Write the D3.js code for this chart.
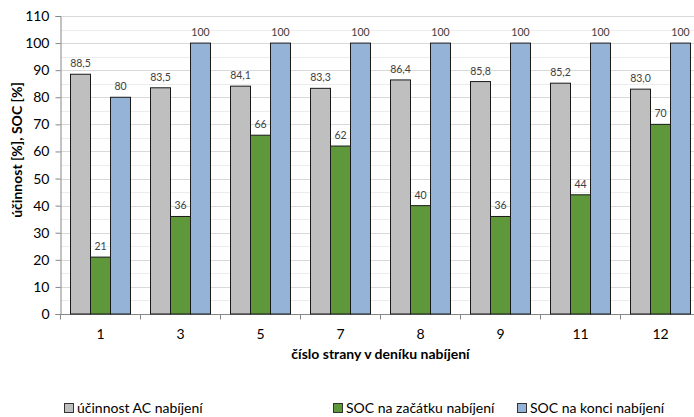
<!DOCTYPE html>
<html><head><meta charset="utf-8">
<script src="https://cdn.jsdelivr.net/npm/d3@7"></script>
<style>body{margin:0;background:#fff}svg{display:block;font-family:Lato,"Open Sans",sans-serif}</style>
</head><body><svg id="c" width="694" height="417"></svg>
<script>
const categories = ["1","3","5","7","8","9","11","12"];
const efficiency = [88.5,83.5,84.1,83.3,86.4,85.8,85.2,83.0];
const socStart = [21,36,66,62,40,36,44,70];
const socEnd = [80,100,100,100,100,100,100,100];
const seriesNames = ["účinnost AC nabíjení","SOC na začátku nabíjení","SOC na konci nabíjení"];
const colors = ["#bfbfbf","#5f973b","#95b3d7"];
const yTicks = [0,10,20,30,40,50,60,70,80,90,100,110];

const svg = d3.select("#c");
const L = 60.5, R = 700.5, T = 16, B = 314;
const x = d3.scaleBand().domain(categories).range([L,R]).paddingInner(0.25).paddingOuter(0.125);
const x0 = d3.scaleBand().domain(categories).range([L,R]);
const xs = d3.scaleBand().domain([0,1,2]).range([0,x.bandwidth()]);
const y = d3.scaleLinear().domain([0,110]).range([B,T]);

// minor gridlines
const g = svg.append("g");
d3.range(5,110,10).forEach(v=>{
  g.append("line").attr("x1",L).attr("x2",R).attr("y1",Math.round(y(v))+0.5).attr("y2",Math.round(y(v))+0.5).attr("stroke","#ececec");
});
yTicks.filter(v=>v>0).forEach(v=>{
  g.append("line").attr("x1",L).attr("x2",R).attr("y1",Math.round(y(v))+0.5).attr("y2",Math.round(y(v))+0.5).attr("stroke","#d9d9d9");
});

// y axis
const ya = svg.append("g").attr("transform",`translate(${L},0)`).call(d3.axisLeft(y).tickValues(yTicks).tickSize(5).tickPadding(6));
ya.select(".domain").attr("stroke","#868686");
ya.selectAll(".tick line").attr("stroke","#868686");
ya.selectAll("text").attr("font-size",14).attr("fill","#000").attr("font-family","Lato,sans-serif");

// x axis
const xa = svg.append("g").attr("transform",`translate(0,${B+0.5})`);
xa.append("line").attr("x1",L).attr("x2",R).attr("stroke","#868686");
categories.concat(["end"]).forEach((c,i)=>{
  const xx = L + i*x0.step();
  xa.append("line").attr("x1",xx).attr("x2",xx).attr("y1",0).attr("y2",5).attr("stroke","#868686");
});
categories.forEach(c=>{
  xa.append("text").attr("x",x0(c)+x0.bandwidth()/2).attr("y",24).attr("text-anchor","middle").attr("font-size",14).text(c);
});

// bars
const series = [efficiency, socStart, socEnd];
series.forEach((vals,si)=>{
  const gg = svg.append("g");
  gg.selectAll("rect").data(vals).join("rect")
    .attr("x",(d,i)=>x(categories[i])+xs(si))
    .attr("y",d=>y(d))
    .attr("width",xs.bandwidth())
    .attr("height",d=>B-y(d))
    .attr("fill",colors[si]).attr("stroke","#1a1a1a").attr("stroke-width",1);
  gg.selectAll("text").data(vals).join("text")
    .attr("x",(d,i)=>x(categories[i])+xs(si)+xs.bandwidth()/2)
    .attr("y",d=>y(d)-7)
    .attr("text-anchor","middle").attr("font-size",10.5).attr("fill","#404040")
    .text(d=> si===0 ? d3.format(".1f")(d).replace(".",",") : d3.format("d")(d));
});

// axis titles
svg.append("text").attr("transform",`translate(22,150) rotate(-90)`).attr("text-anchor","middle")
  .attr("font-size",14).attr("font-weight","bold").text("účinnost [%], SOC [%]");
svg.append("text").attr("x",(L+R)/2).attr("y",359).attr("text-anchor","middle")
  .attr("font-size",14).attr("font-weight","bold").text("číslo strany v deníku nabíjení");

// legend
const legX = [64,333,517];
seriesNames.forEach((n,i)=>{
  svg.append("rect").attr("x",legX[i]+0.5).attr("y",403.5).attr("width",9).attr("height",9).attr("fill",colors[i]).attr("stroke","#333");
  svg.append("text").attr("x",legX[i]+13).attr("y",413).attr("font-size",14).text(n);
});
</script></body></html>
